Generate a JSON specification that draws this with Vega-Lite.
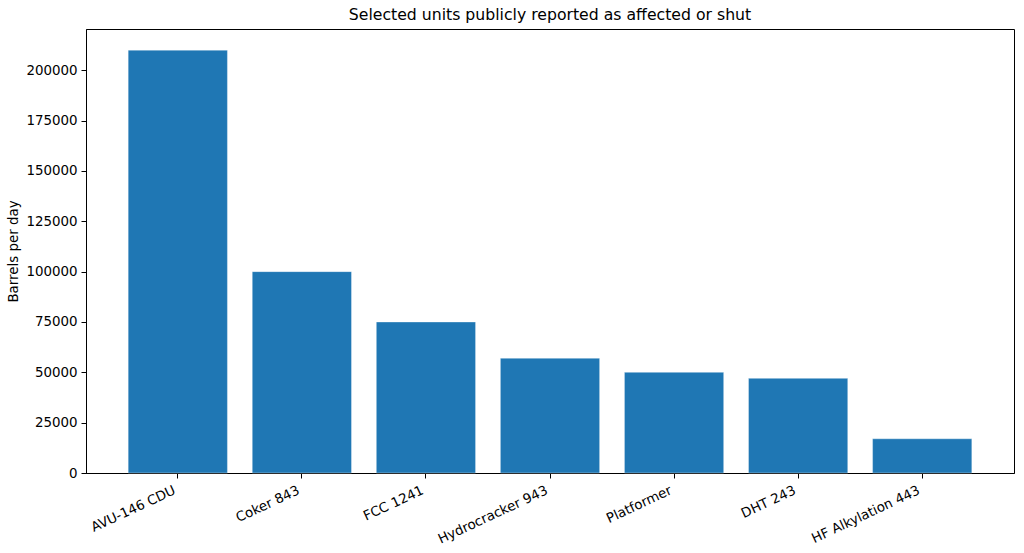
{
  "$schema": "https://vega.github.io/schema/vega-lite/v6.json",
  "autosize": {"type": "none"},
  "padding": {"left": 86, "top": 29, "right": 10, "bottom": 80},
  "width": 928,
  "height": 444,
  "title": {"text": "Selected units publicly reported as affected or shut", "fontSize": 15.7, "font": "DejaVu Sans", "fontWeight": "normal", "color": "#000", "anchor": "middle", "offset": 5},
  "data": {
    "values": [
      {"unit": "AVU-146 CDU", "bpd": 210000},
      {"unit": "Coker 843", "bpd": 100000},
      {"unit": "FCC 1241", "bpd": 75000},
      {"unit": "Hydrocracker 943", "bpd": 57000},
      {"unit": "Platformer", "bpd": 50000},
      {"unit": "DHT 243", "bpd": 47000},
      {"unit": "HF Alkylation 443", "bpd": 17000}
    ]
  },
  "mark": {"type": "bar", "color": "#1f77b4", "stroke": "#ffffff", "strokeWidth": 0.6, "strokeOpacity": 0.6},
  "encoding": {
    "x": {
      "field": "unit", "type": "nominal", "sort": null, "title": null,
      "scale": {"paddingInner": 0.2, "paddingOuter": 0.34},
      "axis": {"labelAngle": -25, "labelAlign": "right", "labelBaseline": "top", "labelPadding": 5, "labelOffset": -6}
    },
    "y": {
      "field": "bpd", "type": "quantitative", "title": "Barrels per day",
      "scale": {"domain": [0, 220500], "nice": false, "zero": true},
      "axis": {"values": [0, 25000, 50000, 75000, 100000, 125000, 150000, 175000, 200000], "format": "d", "titlePadding": 5}
    }
  },
  "config": {
    "view": {"stroke": "#000", "strokeWidth": 1},
    "axis": {
      "grid": false,
      "domainColor": "#000",
      "tickColor": "#000",
      "tickSize": 5,
      "labelColor": "#000",
      "labelFont": "DejaVu Sans",
      "labelFontSize": 13.4,
      "titleFont": "DejaVu Sans",
      "titleFontSize": 13.4,
      "titleFontWeight": "normal",
      "titleColor": "#000",
      "labelPadding": 4
    }
  }
}
